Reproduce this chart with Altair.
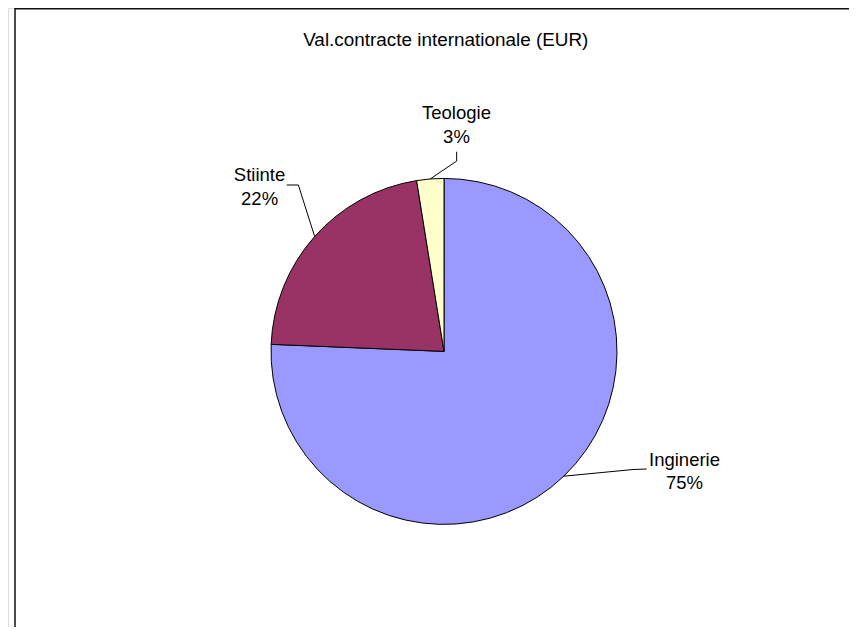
import altair as alt
import pandas as pd

# ---- data ----
categories = ["Inginerie", "Stiinte", "Teologie"]
values = [75.65, 21.82, 2.53]
pct_labels = ["75%", "22%", "3%"]
colors = ["#9999FF", "#993366", "#FFFFCC"]
title_text = "Val.contracte internationale (EUR)"

# ---- layout (pixels) ----
W, H = 841, 619
CX, CY, R = 436, 343.4, 173
FONT = "Liberation Sans"
FS = 18.5
# label nudges relative to the slice's mid-angle point on the pie edge
nudges = {
    "Teologie": dict(tx=26.2, ty=-59.9, bx=26.4, by=-17.9, fx=26.4, fy=-27.2),
    "Stiinte": dict(tx=-55.1, ty=-55.5, bx=-16.3, by=-51.5, fx=-27.9, fy=-51.5),
    "Inginerie": dict(tx=120.7, ty=-10.5, bx=69.2, by=-6.7, fx=82.9, fy=-7.2),
}

df = pd.DataFrame({
    "cat": categories,
    "value": values,
    "pct": pct_labels,
    "order": list(range(len(categories))),
})
df["label"] = df["cat"] + "\n" + df["pct"]
for k in ["tx", "ty", "bx", "by", "fx", "fy"]:
    df[k] = [nudges[c][k] for c in categories]

pie = alt.Chart(df).mark_arc(
    outerRadius=R, stroke="black", strokeWidth=1
).encode(
    theta=alt.Theta("value:Q", stack=True),
    order=alt.Order("order:Q"),
    color=alt.Color("cat:N", scale=alt.Scale(domain=categories, range=colors), legend=None),
    x=alt.value(CX),
    y=alt.value(CY),
)

base = alt.Chart(df).transform_window(
    cum="sum(value)", sort=[{"field": "order"}], frame=[None, 0]
).transform_joinaggregate(
    total="sum(value)"
).transform_calculate(
    mid="(datum.cum - datum.value/2) / datum.total * 2 * PI"
).transform_calculate(
    px=f"{CX} + {R} * sin(datum.mid)",
    py=f"{CY} - {R} * cos(datum.mid)",
).transform_calculate(
    lx="datum.px + datum.tx",
    ly="datum.py + datum.ty",
    ex="datum.px + datum.bx",
    ey="datum.py + datum.by",
    gx="datum.px + datum.fx",
    gy="datum.py + datum.fy",
)

labels = base.mark_text(
    align="center", baseline="alphabetic", font=FONT, fontSize=FS,
    lineBreak="\n", lineHeight=23.5, color="black"
).encode(
    x=alt.X("lx:Q", scale=None),
    y=alt.Y("ly:Q", scale=None),
    text="label:N",
)

lead1 = base.mark_rule(color="black", strokeWidth=1).encode(
    x=alt.X("px:Q", scale=None), y=alt.Y("py:Q", scale=None),
    x2="ex:Q", y2="ey:Q",
)
lead2 = base.mark_rule(color="black", strokeWidth=1).encode(
    x=alt.X("ex:Q", scale=None), y=alt.Y("ey:Q", scale=None),
    x2="gx:Q", y2="gy:Q",
)

title = alt.Chart(pd.DataFrame({"t": [title_text]})).mark_text(
    align="center", baseline="alphabetic", font=FONT, fontSize=18.9, color="black"
).encode(x=alt.value(437.8), y=alt.value(37.5), text="t:N")

frame_left = alt.Chart(pd.DataFrame({"a": [0]})).mark_rule(color="#111111", strokeWidth=1.5).encode(
    x=alt.value(7), y=alt.value(0), y2=alt.value(H)
)
frame_top = alt.Chart(pd.DataFrame({"a": [0]})).mark_rule(color="#111111", strokeWidth=1.5).encode(
    x=alt.value(7), x2=alt.value(W), y=alt.value(0.75)
)

chart = alt.layer(frame_left, frame_top, pie, lead1, lead2, labels, title).properties(
    width=W, height=H, autosize=alt.AutoSizeParams(type="none"), padding=0
).configure_view(stroke=None).configure(background="white")

chart.save("out.html", embed_options={"renderer": "svg", "actions": False})
